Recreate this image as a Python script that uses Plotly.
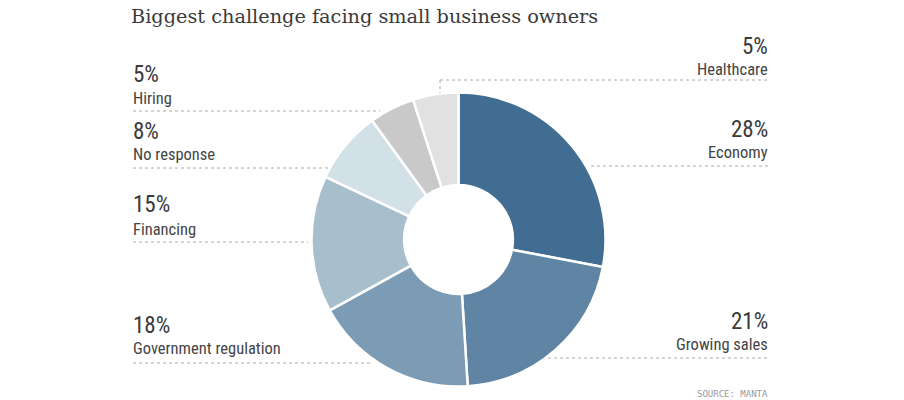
import plotly.graph_objects as go

categories = ["Economy", "Growing sales", "Government regulation", "Financing",
              "No response", "Hiring", "Healthcare"]
values = [28, 21, 18, 15, 8, 5, 5]
colors = ["#416d92", "#5f84a4", "#7c9cb5", "#a7bfcc", "#d2e1e8", "#c9c9c9", "#e1e1e1"]

W, H = 904, 400
def px(x): return x / W
def py(y): return 1 - y / H

fig = go.Figure()
fig.add_trace(go.Pie(
    labels=categories, values=values, sort=False, direction="clockwise",
    rotation=0, hole=0.37, textinfo="none", hoverinfo="label+percent",
    marker=dict(colors=colors, line=dict(color="white", width=2.5)),
    domain=dict(x=[px(311.5), px(605.5)], y=[py(386.5), py(92.5)]),
    showlegend=False,
))

NUM_FONT = dict(family="Liberation Sans Narrow, Arial Narrow, Roboto Condensed, sans-serif", size=23, color="#3a3a3a")
LAB_FONT = dict(family="Liberation Sans Narrow, Arial Narrow, Roboto Condensed, sans-serif", size=16.5, color="#444444")

# label layout: (category index, side, num_y, label_y, line_y, line_x0, line_x1)
label_layout = [
    (5, "left", 74, 98, 111, 133, 380),
    (4, "left", 131, 155, 168, 133, 330),
    (3, "left", 205, 230, 242, 133, 308),
    (2, "left", 325, 348, 363, 133, 370),
    (6, "right", 46, 69, 80, 440, 768),
    (0, "right", 130, 152, 166, 591, 768),
    (1, "right", 321, 344, 358, 548, 768),
]

annotations = []
shapes = []
for idx, side, ny, ly, liny, x0, x1 in label_layout:
    if side == "left":
        ax, anchor = 131, "left"
    else:
        ax, anchor = 770, "right"
    annotations.append(dict(x=px(ax), y=py(ny), xref="paper", yref="paper",
                            text=f"{values[idx]}%", showarrow=False,
                            xanchor=anchor, yanchor="middle", font=NUM_FONT))
    annotations.append(dict(x=px(ax), y=py(ly), xref="paper", yref="paper",
                            text=categories[idx], showarrow=False,
                            xanchor=anchor, yanchor="middle", font=LAB_FONT))
    shapes.append(dict(type="line", xref="paper", yref="paper",
                       x0=px(x0), x1=px(x1), y0=py(liny), y1=py(liny),
                       line=dict(color="#aaaaaa", width=1, dash="dot")))

# vertical connector for Healthcare
shapes.append(dict(type="line", xref="paper", yref="paper",
                   x0=px(440), x1=px(440), y0=py(80), y1=py(93),
                   line=dict(color="#aaaaaa", width=1, dash="dot")))

annotations.append(dict(x=px(129), y=py(17), xref="paper", yref="paper",
                        text="Biggest challenge facing small business owners",
                        showarrow=False, xanchor="left", yanchor="middle",
                        font=dict(family="DejaVu Serif, Liberation Serif, serif", size=19.3, color="#3a3a3a")))
annotations.append(dict(x=px(770), y=py(394), xref="paper", yref="paper",
                        text="SOURCE: MANTA",
                        showarrow=False, xanchor="right", yanchor="middle",
                        font=dict(family="DejaVu Sans Mono, monospace", size=9, color="#999999")))

fig.update_layout(
    width=W, height=H, margin=dict(l=0, r=0, t=0, b=0),
    paper_bgcolor="white", plot_bgcolor="white",
    annotations=annotations, shapes=shapes,
)

fig.write_html("out.html")
